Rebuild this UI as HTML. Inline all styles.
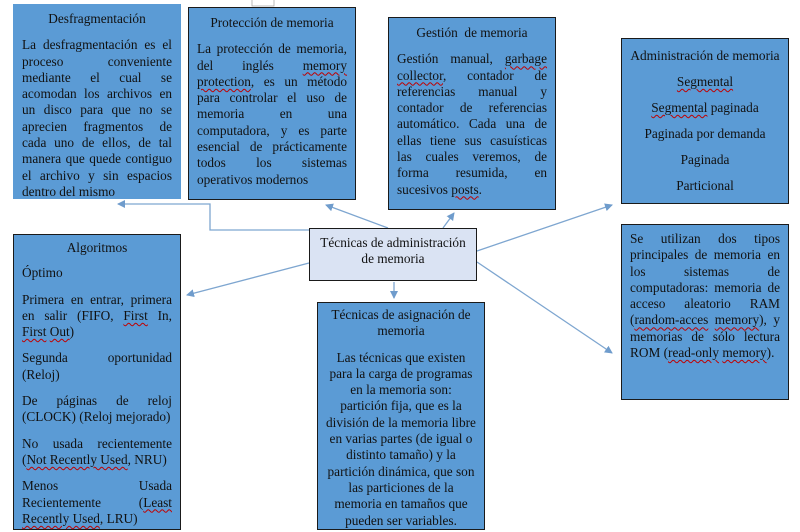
<!DOCTYPE html>
<html><head><meta charset="utf-8"><style>
*{margin:0;padding:0;box-sizing:border-box}
body{width:800px;height:532px;background:#fff;position:relative;overflow:hidden;font-family:"Liberation Serif","Times New Roman",Times,serif;font-size:13.3px;line-height:16.3px;color:#111}
.b{position:absolute;background:#5b9bd5;border:1.5px solid #1a1a1a;padding:7px 8px}
.j{text-align:justify;text-align-last:left}
.c{text-align:center;text-align-last:center}
p{margin:0}
.t{text-align:center;text-align-last:center;margin-bottom:10px}
u{text-decoration:underline wavy #c00000;text-decoration-thickness:1px;text-underline-offset:2px}
svg{position:absolute;left:0;top:0}
</style></head><body>
<svg width="800" height="532">
<defs><marker id="a" markerWidth="8" markerHeight="8" refX="7" refY="4" orient="auto" markerUnits="userSpaceOnUse"><path d="M0,0 L8,4 L0,8 z" fill="#6f9ccc"/></marker></defs>
<g stroke="#7ea6d0" stroke-width="1.3" fill="none">
<polyline points="309,230 210,230 210,204 118,204" marker-end="url(#a)"/>
<line x1="388" y1="228" x2="326" y2="205" marker-end="url(#a)"/>
<line x1="443" y1="228" x2="454" y2="213" marker-end="url(#a)"/>
<line x1="477" y1="251" x2="612" y2="205" marker-end="url(#a)"/>
<line x1="477" y1="262" x2="612" y2="353" marker-end="url(#a)"/>
<line x1="309" y1="263" x2="187" y2="295" marker-end="url(#a)"/>
<line x1="394" y1="282" x2="394" y2="298" marker-end="url(#a)"/>
</g>
<rect x="252" y="-2" width="22" height="8" fill="#fff" stroke="#aaa" stroke-width="0.8"/>
</svg>

<div class="b j" style="left:13px;top:4px;width:168px;height:195px;border:none;padding:7px 9px">
<p class="t">Desfragmentación</p>
<p>La desfragmentación es el proceso conveniente mediante el cual se acomodan los archivos en un disco para que no se aprecien fragmentos de cada uno de ellos, de tal manera que quede contiguo el archivo y sin espacios dentro del mismo</p>
</div>

<div class="b j" style="left:188px;top:7px;width:168px;height:193px">
<p class="t">Protección de memoria</p>
<p>La protección de memoria, del inglés <u>memory protection</u>, es un método para controlar el uso de memoria en una computadora, y es parte esencial de prácticamente todos los sistemas operativos modernos</p>
</div>

<div class="b j" style="left:388px;top:17px;width:168px;height:193px">
<p class="t">Gestión&nbsp; de memoria</p>
<p>Gestión manual, <u>garbage collector</u>, contador de referencias manual y contador de referencias automático. Cada una de ellas tiene sus casuísticas las cuales veremos, de forma resumida, en sucesivos <u>posts</u>.</p>
</div>

<div class="b c" style="left:621px;top:38px;width:168px;height:166px;padding-top:4px;line-height:26px">
<p>Administración de memoria</p>
<p><u>Segmental</u></p>
<p><u>Segmental</u> paginada</p>
<p>Paginada por demanda</p>
<p>Paginada</p>
<p>Particional</p>
</div>

<div class="b j" style="left:621px;top:224px;width:168px;height:176px;padding-top:6px">
<p>Se utilizan dos tipos principales de memoria en los sistemas de computadoras: memoria de acceso aleatorio RAM (<u>random-acces</u> <u>memory</u>), y memorias de sólo lectura ROM (<u>read-only</u> <u>memory</u>).</p>
</div>

<div class="b c" style="left:309px;top:228px;width:168px;height:53px;background:#dae3f3;padding-top:6px">
Técnicas de administración de memoria
</div>

<div class="b j" style="left:13px;top:234px;width:168px;height:296px;padding-top:5px">
<p class="t" style="margin-bottom:9px">Algoritmos</p>
<p style="margin-bottom:10px">Óptimo</p>
<p style="margin-bottom:10px">Primera en entrar, primera en salir (FIFO, <u>First</u> In, <u>First</u> <u>Out</u>)</p>
<p style="margin-bottom:10px">Segunda oportunidad (Reloj)</p>
<p style="margin-bottom:10px">De páginas de reloj (CLOCK) (Reloj mejorado)</p>
<p style="margin-bottom:10px">No usada recientemente (<u>Not Recently Used</u>, NRU)</p>
<p>Menos Usada Recientemente (<u>Least</u> <u>Recently Used</u>, LRU)</p>
</div>

<div class="b c" style="left:317px;top:302px;width:168px;height:228px;padding-top:4px;overflow:hidden">
<p style="margin-bottom:10px">Técnicas de asignación de memoria</p>
<p>Las técnicas que existen para la carga de programas en la memoria son: partición fija, que es la división de la memoria libre en varias partes (de igual o distinto tamaño) y la partición dinámica, que son las particiones de la memoria en tamaños que pueden ser variables.</p>
</div>
</body></html>
